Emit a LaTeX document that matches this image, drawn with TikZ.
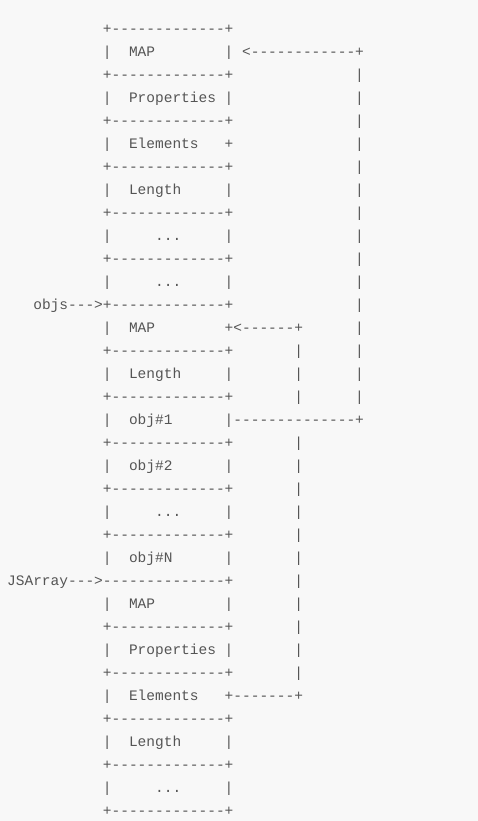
\documentclass[tikz,border=0pt]{standalone}
\usepackage{fontspec}
\setmonofont{Liberation Mono}
\usepackage{tikz}
\definecolor{pagebg}{HTML}{F8F8F8}
\definecolor{ink}{HTML}{555555}
\newcommand{\sk}[1]{\hspace*{\dimexpr 0.6em*#1\relax}} % n blanks of one mono char
\newcommand{\more}{...} % kept out of the foreach list, which reads dots itself
\tikzset{
    row/.style={anchor=base west, inner sep=0pt, text=ink, font=\ttfamily\fontsize{14.5}{23}\selectfont}, % one line of the art
}

\begin{document}
\begin{tikzpicture}[x=1pt, y=1pt]
    \fill[pagebg] (0,0) rectangle (478,-821);
    \useasboundingbox (0,0) rectangle (478,-821);

    \foreach \txt [count=\r] in {
        {\sk{11}+-------------+},
        {\sk{11}|\sk{2}MAP\sk{8}|\sk{1}<------------+},
        {\sk{11}+-------------+\sk{14}|},
        {\sk{11}|\sk{2}Properties\sk{1}|\sk{14}|},
        {\sk{11}+-------------+\sk{14}|},
        {\sk{11}|\sk{2}Elements\sk{3}+\sk{14}|},
        {\sk{11}+-------------+\sk{14}|},
        {\sk{11}|\sk{2}Length\sk{5}|\sk{14}|},
        {\sk{11}+-------------+\sk{14}|},
        {\sk{11}|\sk{5}\more\sk{5}|\sk{14}|},
        {\sk{11}+-------------+\sk{14}|},
        {\sk{11}|\sk{5}\more\sk{5}|\sk{14}|},
        {\sk{3}objs--->+-------------+\sk{14}|},
        {\sk{11}|\sk{2}MAP\sk{8}+<------+\sk{6}|},
        {\sk{11}+-------------+\sk{7}|\sk{6}|},
        {\sk{11}|\sk{2}Length\sk{5}|\sk{7}|\sk{6}|},
        {\sk{11}+-------------+\sk{7}|\sk{6}|},
        {\sk{11}|\sk{2}obj\#1\sk{6}|--------------+},
        {\sk{11}+-------------+\sk{7}|},
        {\sk{11}|\sk{2}obj\#2\sk{6}|\sk{7}|},
        {\sk{11}+-------------+\sk{7}|},
        {\sk{11}|\sk{5}\more\sk{5}|\sk{7}|},
        {\sk{11}+-------------+\sk{7}|},
        {\sk{11}|\sk{2}obj\#N\sk{6}|\sk{7}|},
        {JSArray--->--------------+\sk{7}|},
        {\sk{11}|\sk{2}MAP\sk{8}|\sk{7}|},
        {\sk{11}+-------------+\sk{7}|},
        {\sk{11}|\sk{2}Properties\sk{1}|\sk{7}|},
        {\sk{11}+-------------+\sk{7}|},
        {\sk{11}|\sk{2}Elements\sk{3}+-------+},
        {\sk{11}+-------------+},
        {\sk{11}|\sk{2}Length\sk{5}|},
        {\sk{11}+-------------+},
        {\sk{11}|\sk{5}\more\sk{5}|},
        {\sk{11}+-------------+}}
        {\node[row] (l\r) at (7, {-10.3-23*\r}) {\txt};}
\end{tikzpicture}
\end{document}
